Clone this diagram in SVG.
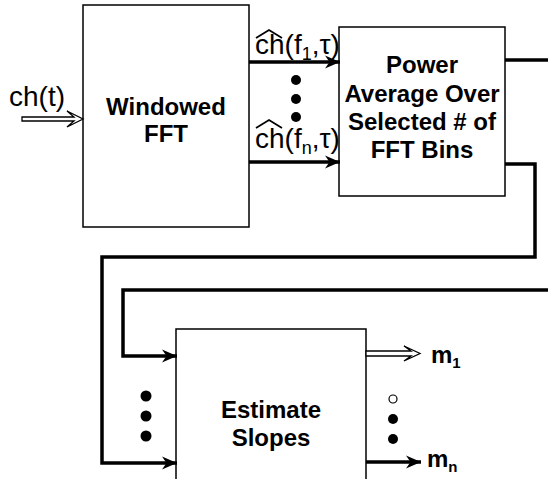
<svg xmlns="http://www.w3.org/2000/svg" width="548" height="479" viewBox="0 0 548 479">
<style>
.box{fill:#fff;stroke:#000;stroke-width:1.5}
.lbl{font-family:"Liberation Sans",Arial,sans-serif;font-weight:bold;font-size:24px;text-anchor:middle;fill:#000}
.sig{font-family:"Liberation Sans",Arial,sans-serif;font-size:28px;fill:#000}
.out{font-family:"Liberation Sans",Arial,sans-serif;font-weight:bold;font-size:24px;fill:#000}
.wire{fill:none;stroke:#000;stroke-width:3.5}
.hollow{fill:#fff;stroke:#000;stroke-width:1.3;stroke-linejoin:miter}
.hat{fill:none;stroke:#000;stroke-width:1.8}
</style>
<defs>
<marker id="ah" markerUnits="userSpaceOnUse" markerWidth="18" markerHeight="16" refX="15" refY="8" orient="auto">
<path d="M0,1.5 L15,8 L0,14.5 L4.5,8 Z" fill="#000"/>
</marker>
</defs>
<g id="windowed-fft">
<rect class="box" x="83" y="5" width="166" height="222"/>
<text class="lbl" x="166" y="115">Windowed</text>
<text class="lbl" x="166" y="142">FFT</text>
</g>
<g id="power-average">
<rect class="box" x="339" y="27" width="166" height="169"/>
<text class="lbl" x="422" y="73">Power</text>
<text class="lbl" x="422" y="102">Average Over</text>
<text class="lbl" x="422" y="130">Selected # of</text>
<text class="lbl" x="422" y="158">FFT Bins</text>
</g>
<g id="estimate-slopes">
<rect class="box" x="176" y="329" width="190" height="160"/>
<text class="lbl" x="271" y="418">Estimate</text>
<text class="lbl" x="271" y="446">Slopes</text>
</g>
<g id="connectors">
<path class="hollow" d="M22,117 H74 L67,111 L83,119 L67,127 L74,121 H22 Z"/>
<line class="wire" x1="249" y1="62" x2="340" y2="62" marker-end="url(#ah)"/>
<line class="wire" x1="249" y1="162" x2="340" y2="162" marker-end="url(#ah)"/>
<polyline class="wire" points="505,60 548,60"/>
<polyline class="wire" points="505,164 535,164 535,257 102,257 102,463 177,463" marker-end="url(#ah)"/>
<polyline class="wire" points="548,290 123,290 123,356 177,356" marker-end="url(#ah)"/>
<path class="hollow" d="M366,351 H411 L404,346 L420,353.5 L404,361 L411,356 H366 Z"/>
<line class="wire" x1="366" y1="462" x2="421" y2="462" marker-end="url(#ah)"/>
</g>
<g id="dots">
<circle cx="296" cy="80" r="5"/>
<circle cx="296" cy="99" r="5"/>
<circle cx="296" cy="117" r="5"/>
<circle cx="146" cy="396" r="5.5"/>
<circle cx="146" cy="416" r="5.5"/>
<circle cx="146" cy="436" r="5.5"/>
<circle cx="393" cy="399" r="4" fill="#fff" stroke="#000" stroke-width="1.2"/>
<circle cx="393" cy="419" r="5"/>
<circle cx="393" cy="439" r="5"/>
</g>
<g id="labels">
<text class="sig" x="9" y="106">ch(t)</text>
<polyline class="hat" points="256,38 269,30 282,38"/>
<text class="sig" x="255" y="54">ch(f<tspan font-size="18" dy="6">1</tspan><tspan dy="-6">,τ)</tspan></text>
<polyline class="hat" points="256,128 269,120 282,128"/>
<text class="sig" x="255" y="148">ch(f<tspan font-size="18" dy="6">n</tspan><tspan dy="-6">,τ)</tspan></text>
<text class="out" x="431" y="363">m<tspan font-size="15" dy="5">1</tspan></text>
<text class="out" x="427" y="467">m<tspan font-size="15" dy="5">n</tspan></text>
</g>
</svg>
